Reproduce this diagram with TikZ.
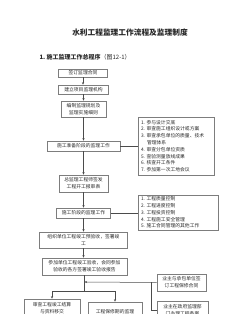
\documentclass[tikz,border=0pt]{standalone}
\usepackage{fontspec}
\setmainfont{Noto Sans CJK SC}
\definecolor{boxcol}{RGB}{125,125,125}
\definecolor{linecol}{RGB}{75,75,75}
\definecolor{textcol}{RGB}{40,40,40}
\usetikzlibrary{arrows.meta, positioning, calc}

\tikzset{
  flowbox/.style={draw=boxcol, line width=0.5pt, inner sep=0pt,
                  align=center, text=textcol,
                  font=\fontsize{4.8}{7.2}\selectfont},
  notebox/.style={draw=boxcol, line width=0.8pt, inner sep=0pt,
                  align=left, text=textcol,
                  font=\fontsize{4.8}{6.8}\selectfont},
  flowarrow/.style={-{Stealth[length=2.6pt,width=2.2pt]}, linecol,
                    line width=0.5pt},
  flowline/.style={linecol, line width=0.5pt}
}

\begin{document}
\begin{tikzpicture}[x=1pt, y=-1pt]

  \useasboundingbox (0,0) rectangle (246,314);
  \clip (0,0) rectangle (246,314);

  % Headings
  \node[font=\fontsize{7.7}{9}\selectfont\bfseries, text=textcol]
    (title) at (130,33) {水利工程监理工作流程及监理制度};
  \node[anchor=west, font=\fontsize{6}{7}\selectfont, text=textcol]
    (sub) at (36,57) {\textbf{1.\ 施工监理工作总程序}（图12-1）};

  % Main flow boxes
  \node[flowbox, minimum width=49pt, minimum height=8pt]
    (sign) at (83,73) {签订监理合同};
  \node[flowbox, minimum width=50pt, minimum height=9pt]
    (org) at (83.5,89.5) {建立项目监理机构};
  \node[flowbox, minimum width=45pt, minimum height=16pt]
    (plan) at (83.5,109) {编制监理规划及\\监理实施细则};
  \node[flowbox, minimum width=73pt, minimum height=10pt]
    (prep) at (83.5,146) {施工准备阶段的监理工作};
  \node[flowbox, minimum width=49pt, minimum height=17pt]
    (start) at (83.5,183.5) {总监理工程师签发\\工程开工报审表};
  \node[flowbox, minimum width=54pt, minimum height=10pt]
    (build) at (83.5,213) {施工阶段的监理工作};
  \node[flowbox, minimum width=88pt, minimum height=16pt]
    (pre) at (83.5,240) {组织单位工程竣工预验收，签署竣\\工};
  \node[flowbox, minimum width=85pt, minimum height=17pt]
    (final) at (84.5,266.5) {参加单位工程竣工验收，会同参加\\验收的各方签署竣工验收报告};

  % Side notes
  \node[notebox, minimum width=76pt, minimum height=58pt,
        text width=70pt] (rprep) at (176,146)
    {1.\ 参与设计交底\\
     2.\ 审查施工组织设计或方案\\
     3.\ 审查承包单位的质量、技术\\
     \hspace*{6pt}管理体系\\
     4.\ 审查分包单位资质\\
     5.\ 查验测量放线成果\\
     6.\ 核查开工条件\\
     7.\ 参加第一次工地会议};
  \node[notebox, minimum width=80pt, minimum height=35pt,
        text width=74pt] (rbuild) at (178,212.5)
    {1.\ 工程质量控制\\
     2.\ 工程进度控制\\
     3.\ 工程投资控制\\
     4.\ 工程施工安全管理\\
     5.\ 施工合同管理的其他工作};
  \node[notebox, align=center, minimum width=49pt, minimum height=17pt]
    (rwarranty) at (181.5,282.5) {业主与承包单位签\\订工程保修合同};
  \node[notebox, align=center, minimum width=51pt, minimum height=18pt]
    (rrecord) at (182.5,310) {业主在政府监理部\\门办理工程备案};

  % Last boxes
  \node[flowbox, minimum width=56pt, minimum height=19pt]
    (settle) at (52,308.5) {审查工程竣工结算\\与资料移交};
  \node[flowbox, minimum width=54pt, minimum height=20pt]
    (guard) at (115,312) {工程保修期的监理};

  % Connectors
  \foreach \a/\b in {sign/org, org/plan, plan/prep, prep/start,
                     start/build, build/pre, pre/final} {
    \draw[flowarrow] (\a.south) -- (\a.south |- \b.north);
  }
  \draw[flowline] (prep.east) -- (prep.east -| rprep.west);
  \draw[flowline] (build.east) -- (build.east -| rbuild.west);

  \coordinate (join) at (84.5,282);
  \coordinate (split) at (84.5,291);
  \coordinate (bend) at (151,282);
  \draw[flowline] (final.south) -- (split);
  \draw[flowarrow] (rwarranty.west) -- (join);
  \draw[flowline] (bend) |- (rrecord.west);
  \draw[flowarrow] (split) -| (settle.north);
  \draw[flowarrow] (split) -| (guard.north);

\end{tikzpicture}
\end{document}
